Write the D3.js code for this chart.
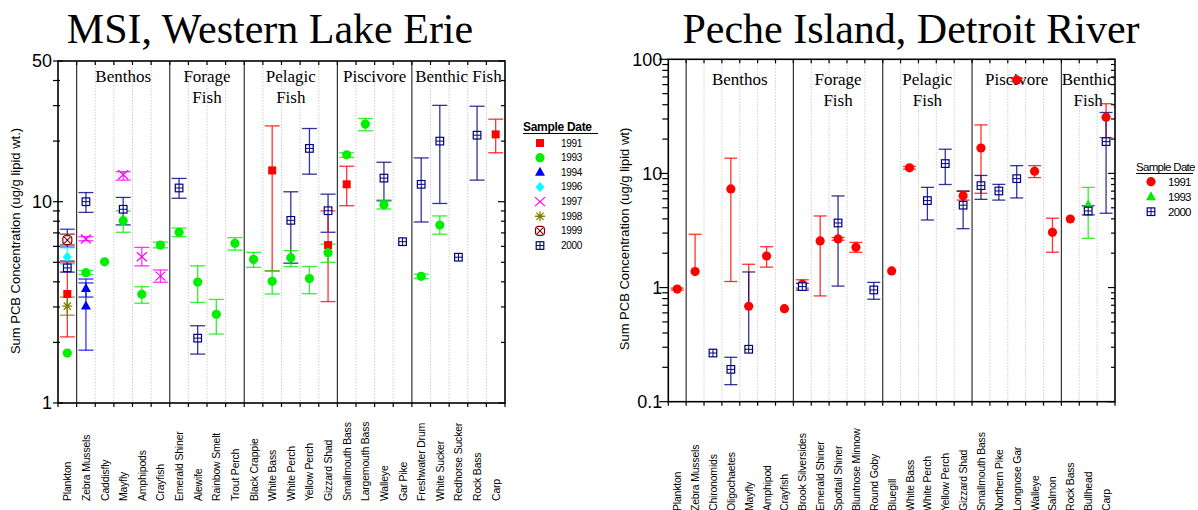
<!DOCTYPE html>
<html>
<head>
<meta charset="utf-8">
<script src="https://cdn.jsdelivr.net/npm/d3@7"></script>
<style>
  body { margin: 0; background: #fff; }
  svg { display: block; }
</style>
</head>
<body>
<script>
// ── Data: MSI, Western Lake Erie ─────────────────────────────────────────
const msiSpecies = ['Plankton', 'Zebra Mussels', 'Caddisfly', 'Mayfly', 'Amphipods', 'Crayfish',
  'Emerald Shiner', 'Alewife', 'Rainbow Smelt', 'Trout Perch',
  'Black Crappie', 'White Bass', 'White Perch', 'Yellow Perch', 'Gizzard Shad',
  'Smallmouth Bass', 'Largemouth Bass', 'Walleye', 'Gar Pike',
  'Freshwater Drum', 'White Sucker', 'Redhorse Sucker', 'Rock Bass', 'Carp'];

const msiGroups = [
  { label: ['Benthos'],      first: 'Zebra Mussels',   last: 'Crayfish' },
  { label: ['Forage', 'Fish'], first: 'Emerald Shiner', last: 'Trout Perch' },
  { label: ['Pelagic', 'Fish'], first: 'Black Crappie', last: 'Gizzard Shad' },
  { label: ['Piscivore'],    first: 'Smallmouth Bass', last: 'Gar Pike' },
  { label: ['Benthic Fish'], first: 'Freshwater Drum', last: 'Carp' },
];

const msiYears = ['1991', '1993', '1994', '1996', '1997', '1998', '1999', '2000'];

// [species, year, mean, low, high]
const msiPoints = [
  ['Plankton', '1991', 3.48, 2.13, 4.96],
  ['Plankton', '1993', 1.77, null, null],
  ['Plankton', '1994', 6.45, 5.95, 7.3],
  ['Plankton', '1996', 5.31, 4.9, 5.9],
  ['Plankton', '1998', 3.03, 2.73, 3.36],
  ['Plankton', '1999', 6.45, 6.1, 6.9],
  ['Plankton', '2000', 4.69, 4.47, 5.07],
  ['Zebra Mussels', '2000', 10.0, 8.85, 11.1],
  ['Zebra Mussels', '1997', 6.53, 6.4, 6.7],
  ['Zebra Mussels', '1993', 4.44, 4.35, 4.55],
  ['Zebra Mussels', '1994', 3.71, 3.36, 3.95],
  ['Zebra Mussels', '1994', 3.03, 1.83, 4.13],
  ['Caddisfly', '1993', 5.03, null, null],
  ['Mayfly', '1997', 13.6, 12.8, 14.1],
  ['Mayfly', '2000', 9.17, 7.67, 10.5],
  ['Mayfly', '1993', 8.05, 7.05, 9.0],
  ['Amphipods', '1997', 5.33, 4.8, 5.93],
  ['Amphipods', '1993', 3.47, 3.13, 3.78],
  ['Crayfish', '1993', 6.09, 5.9, 6.3],
  ['Crayfish', '1997', 4.27, 3.98, 4.58],
  ['Emerald Shiner', '2000', 11.7, 10.4, 13.05],
  ['Emerald Shiner', '1993', 7.05, 6.7, 7.4],
  ['Alewife', '1993', 3.99, 3.16, 4.8],
  ['Alewife', '2000', 2.10, 1.75, 2.42],
  ['Rainbow Smelt', '1993', 2.76, 2.2, 3.27],
  ['Trout Perch', '1993', 6.21, 5.75, 6.63],
  ['Black Crappie', '1993', 5.17, 4.72, 5.6],
  ['White Bass', '1991', 14.3, 4.53, 23.8],
  ['White Bass', '1993', 4.02, 3.48, 4.53],
  ['White Perch', '2000', 8.08, 4.95, 11.2],
  ['White Perch', '1993', 5.27, 4.76, 5.71],
  ['Yellow Perch', '2000', 18.4, 13.7, 23.1],
  ['Yellow Perch', '1993', 4.15, 3.49, 4.77],
  ['Gizzard Shad', '2000', 9.02, 7.05, 10.9],
  ['Gizzard Shad', '1991', 6.09, 3.19, 9.0],
  ['Gizzard Shad', '1993', 5.58, 5.0, 6.16],
  ['Smallmouth Bass', '1993', 17.1, 16.6, 17.5],
  ['Smallmouth Bass', '1991', 12.2, 9.55, 15.0],
  ['Largemouth Bass', '1993', 24.3, 22.5, 25.9],
  ['Walleye', '2000', 13.1, 10.1, 15.7],
  ['Walleye', '1993', 9.67, 9.2, 10.2],
  ['Gar Pike', '2000', 6.33, null, null],
  ['Freshwater Drum', '2000', 12.2, 7.93, 16.5],
  ['Freshwater Drum', '1993', 4.26, 4.15, 4.37],
  ['White Sucker', '2000', 20.0, 9.8, 30.1],
  ['White Sucker', '1993', 7.66, 6.9, 8.5],
  ['Redhorse Sucker', '2000', 5.3, null, null],
  ['Rock Bass', '2000', 21.4, 12.8, 29.8],
  ['Carp', '1991', 21.6, 17.5, 25.7],
];

// ── Data: Peche Island, Detroit River ────────────────────────────────────
const pecheSpecies = ['Plankton', 'Zebra Mussels', 'Chironomids', 'Oligochaetes', 'Mayfly', 'Amphipod', 'Crayfish',
  'Brook Silversides', 'Emerald Shiner', 'Spottail Shiner', 'Bluntnose Minnow', 'Round Goby',
  'Bluegill', 'White Bass', 'White Perch', 'Yellow Perch', 'Gizzard Shad',
  'Smallmouth Bass', 'Northern Pike', 'Longnose Gar', 'Walleye', 'Salmon',
  'Rock Bass', 'Bullhead', 'Carp'];

const pecheGroups = [
  { label: ['Benthos'],         first: 'Zebra Mussels',     last: 'Crayfish' },
  { label: ['Forage', 'Fish'],  first: 'Brook Silversides', last: 'Round Goby' },
  { label: ['Pelagic', 'Fish'], first: 'Bluegill',          last: 'Gizzard Shad' },
  { label: ['Piscivore'],       first: 'Smallmouth Bass',   last: 'Salmon' },
  { label: ['Benthic', 'Fish'], first: 'Rock Bass',         last: 'Carp' },
];

const pecheYears = ['1991', '1993', '2000'];

const pechePoints = [
  ['Plankton', '1991', 0.97, 0.95, 0.99],
  ['Zebra Mussels', '1991', 1.38, null, 2.93],
  ['Chironomids', '2000', 0.267, null, null],
  ['Oligochaetes', '1991', 7.31, 1.13, 13.6],
  ['Oligochaetes', '2000', 0.192, 0.141, 0.245],
  ['Mayfly', '1991', 0.686, null, 1.6],
  ['Mayfly', '2000', 0.288, null, 1.37],
  ['Amphipod', '1991', 1.89, 1.51, 2.28],
  ['Crayfish', '1991', 0.653, null, null],
  ['Brook Silversides', '1991', 1.07, 0.99, 1.17],
  ['Brook Silversides', '2000', 1.02, 0.95, 1.09],
  ['Emerald Shiner', '1991', 2.56, 0.845, 4.24],
  ['Spottail Shiner', '1991', 2.67, 2.6, 2.75],
  ['Spottail Shiner', '2000', 3.68, 1.03, 6.35],
  ['Bluntnose Minnow', '1991', 2.26, 2.04, 2.49],
  ['Round Goby', '2000', 0.953, 0.79, 1.11],
  ['Bluegill', '1991', 1.40, null, null],
  ['White Bass', '1991', 11.2, 10.9, 11.5],
  ['White Perch', '2000', 5.78, 3.91, 7.55],
  ['Yellow Perch', '2000', 12.2, 8.0, 16.3],
  ['Gizzard Shad', '1991', 6.39, 5.84, 7.0],
  ['Gizzard Shad', '2000', 5.27, 3.28, 7.0],
  ['Smallmouth Bass', '1991', 16.7, 6.7, 26.6],
  ['Smallmouth Bass', '2000', 7.82, 5.93, 9.6],
  ['Northern Pike', '2000', 7.02, 5.84, 8.02],
  ['Longnose Gar', '1991', 66, 64, 68],
  ['Longnose Gar', '2000', 9.0, 6.1, 11.7],
  ['Walleye', '1991', 10.45, 9.2, 11.7],
  ['Salmon', '1991', 3.05, 2.04, 4.05],
  ['Rock Bass', '1991', 3.99, null, null],
  ['Bullhead', '1993', 5.3, 2.7, 7.55],
  ['Bullhead', '2000', 4.69, 4.33, 5.2],
  ['Carp', '1991', 31.1, 20.6, 40.8],
  ['Carp', '2000', 19.0, 4.48, 34.2],
];

// ── Styles per sample year (symbol, colour) ──────────────────────────────
const msiStyle = {
  '1991': ['square', '#ff0000'],
  '1993': ['circle', '#00ee00'],
  '1994': ['triangle', '#0000ff'],
  '1996': ['diamond', '#00ffff'],
  '1997': ['x', '#ff00ff'],
  '1998': ['asterisk', '#808000'],
  '1999': ['circlex', '#800000'],
  '2000': ['boxplus', '#000080'],
};
const pecheStyle = {
  '1991': ['circle', '#ff0000'],
  '1993': ['triangle', '#00ee00'],
  '2000': ['boxplus', '#000080'],
};

const svg = d3.select('body').append('svg')
  .attr('width', 1198).attr('height', 510)
  .style('font-family', 'Arial, "Liberation Sans", sans-serif');

// ── Marker drawing ───────────────────────────────────────────────────────
function marker(g, type, color) {
  switch (type) {
    case 'square':
      g.append('rect').attr('x', -4).attr('y', -4).attr('width', 8).attr('height', 8).attr('fill', color);
      break;
    case 'circle':
      g.append('circle').attr('r', 4.6).attr('fill', color);
      break;
    case 'triangle':
      g.append('path').attr('d', 'M0,-5.5L5,3.5L-5,3.5Z').attr('fill', color);
      break;
    case 'diamond':
      g.append('path').attr('d', 'M0,-5L4.5,0L0,5L-4.5,0Z').attr('fill', color);
      break;
    case 'x':
      g.append('path').attr('d', 'M-5,-4.5L5,4.5M-5,4.5L5,-4.5')
        .attr('stroke', color).attr('stroke-width', 1.2).attr('fill', 'none');
      break;
    case 'asterisk':
      g.append('path').attr('d', 'M-5,0H5M0,-5V5M-3.6,-3.6L3.6,3.6M-3.6,3.6L3.6,-3.6')
        .attr('stroke', color).attr('stroke-width', 1.3).attr('fill', 'none');
      break;
    case 'circlex':
      g.append('rect').attr('x', -4.5).attr('y', -4.5).attr('width', 9).attr('height', 9).attr('rx', 3)
        .attr('stroke', color).attr('stroke-width', 1.2).attr('fill', '#fff');
      g.append('path').attr('d', 'M-3,-3L3,3M-3,3L3,-3')
        .attr('stroke', color).attr('stroke-width', 1.1).attr('fill', 'none');
      break;
    case 'boxplus':
      g.append('rect').attr('x', -3.8).attr('y', -3.8).attr('width', 7.6).attr('height', 7.6)
        .attr('stroke', color).attr('stroke-width', 1.2).attr('fill', '#fff');
      g.append('path').attr('d', 'M-3.8,0H3.8M0,-3.8V3.8')
        .attr('stroke', color).attr('stroke-width', 1).attr('fill', 'none');
      break;
  }
}

// ── Panel drawing ────────────────────────────────────────────────────────
function drawPanel(cfg) {
  const { species, groups, points, style, years } = cfg;
  const x = d3.scaleBand().domain(species).range([cfg.left, cfg.right]);
  const y = d3.scaleLog().domain(cfg.domain).range([cfg.bottom, cfg.top]);
  const bw = x.bandwidth();
  const g = svg.append('g');

  // Title
  g.append('text')
    .attr('x', cfg.titleX).attr('y', 43)
    .attr('text-anchor', 'middle')
    .attr('font-family', '"Times New Roman", "Liberation Serif", serif')
    .attr('font-size', 42)
    .text(cfg.title);

  // Column boundaries: dotted within a group, solid between groups
  const groupStarts = new Set(groups.map(gr => gr.first));
  species.forEach((s, i) => {
    if (i === 0) return;
    const bx = x(s);
    const solid = groupStarts.has(s);
    g.append('line')
      .attr('x1', bx).attr('x2', bx).attr('y1', cfg.top).attr('y2', cfg.bottom)
      .attr('stroke', solid ? '#333' : '#c8c8c8')
      .attr('stroke-width', solid ? 1.2 : 0.9)
      .attr('stroke-dasharray', solid ? null : '1.5,1.5');
  });

  // Group labels
  groups.forEach(gr => {
    const cx = (x(gr.first) + x(gr.last) + bw) / 2;
    gr.label.forEach((t, li) => {
      g.append('text')
        .attr('x', cx).attr('y', cfg.groupY + li * 21)
        .attr('text-anchor', 'middle')
        .attr('font-family', '"Times New Roman", "Liberation Serif", serif')
        .attr('font-size', 17)
        .text(t);
    });
  });

  // Frame
  g.append('rect')
    .attr('x', cfg.left).attr('y', cfg.top)
    .attr('width', cfg.right - cfg.left).attr('height', cfg.bottom - cfg.top)
    .attr('fill', 'none').attr('stroke', '#000').attr('stroke-width', 1.6);

  // Column ticks top and bottom
  species.forEach((s, i) => {
    const bx = x(s);
    g.append('line').attr('x1', bx).attr('x2', bx).attr('y1', cfg.bottom).attr('y2', cfg.bottom + 4)
      .attr('stroke', '#000').attr('stroke-width', 1.2);
    if (i > 0) g.append('line').attr('x1', bx).attr('x2', bx).attr('y1', cfg.top).attr('y2', cfg.top + 4)
      .attr('stroke', '#000').attr('stroke-width', 1.2);
  });
  g.append('line').attr('x1', cfg.right).attr('x2', cfg.right).attr('y1', cfg.bottom).attr('y2', cfg.bottom + 4)
    .attr('stroke', '#000').attr('stroke-width', 1.2);

  // Y ticks (log): majors labelled, minors at 2..9
  const majors = cfg.majors;
  const allTicks = y.ticks().filter(v => v >= cfg.domain[0] && v <= cfg.domain[1]);
  allTicks.forEach(v => {
    const isMajor = majors.includes(v);
    const len = isMajor ? 9 : 6;
    const yy = y(v);
    g.append('line')
      .attr('x1', cfg.left - (cfg.crossTicks ? 5 : len)).attr('x2', cfg.left + (cfg.crossTicks ? len - 4 : 0))
      .attr('y1', yy).attr('y2', yy).attr('stroke', '#000').attr('stroke-width', 1.2);
    g.append('line')
      .attr('x1', cfg.right - len + 2).attr('x2', cfg.right)
      .attr('y1', yy).attr('y2', yy).attr('stroke', '#000').attr('stroke-width', 1.2);
  });
  majors.forEach(v => {
    g.append('text')
      .attr('x', cfg.left - 6).attr('y', y(v))
      .attr('dy', '0.36em')
      .attr('text-anchor', 'end')
      .attr('font-size', 18)
      .text(v);
  });

  // Y label
  g.append('text')
    .attr('transform', `translate(${cfg.ylabelX},${cfg.ylabelY}) rotate(-90)`)
    .attr('text-anchor', 'middle')
    .attr('font-size', 13)
    .text(cfg.ylabel);

  // X labels (rotated)
  species.forEach(s => {
    g.append('text')
      .attr('transform', `translate(${x(s) + bw / 2 + 4},${cfg.xlabelY}) rotate(-90)`)
      .attr('font-size', 10.5)
      .attr('letter-spacing', -0.2)
      .text(s);
  });

  // Error bars
  const cap = cfg.cap;
  points.forEach(([s, yr, v, lo, hi]) => {
    const cx = x(s) + bw / 2;
    const col = style[yr][1];
    const eb = g.append('g').attr('stroke', col).attr('stroke-width', 1.3).attr('stroke-opacity', 0.8);
    if (hi != null) {
      eb.append('line').attr('x1', cx).attr('x2', cx).attr('y1', y(v)).attr('y2', y(hi));
      eb.append('line').attr('x1', cx - cap).attr('x2', cx + cap).attr('y1', y(hi)).attr('y2', y(hi));
    }
    if (lo != null) {
      eb.append('line').attr('x1', cx).attr('x2', cx).attr('y1', y(v)).attr('y2', y(lo));
      eb.append('line').attr('x1', cx - cap).attr('x2', cx + cap).attr('y1', y(lo)).attr('y2', y(lo));
    }
  });

  // Markers
  points.forEach(([s, yr, v]) => {
    const m = g.append('g').attr('transform', `translate(${x(s) + bw / 2},${y(v)})`);
    marker(m, style[yr][0], style[yr][1]);
  });

  // Legend
  const L = cfg.legend;
  const lg = g.append('g');
  lg.append('text')
    .attr('x', L.x).attr('y', L.y)
    .attr('font-size', L.titleSize)
    .attr('font-weight', L.bold ? 'bold' : 'normal')
    .attr('letter-spacing', L.spacing)
    .text('Sample Date');
  lg.append('line')
    .attr('x1', L.x).attr('x2', L.x + L.underline)
    .attr('y1', L.y + 2.5).attr('y2', L.y + 2.5)
    .attr('stroke', '#000').attr('stroke-width', 1);
  years.forEach((yr, i) => {
    const yy = L.y + L.first + i * L.step;
    const m = lg.append('g').attr('transform', `translate(${L.symX},${yy})`);
    marker(m, style[yr][0], style[yr][1]);
    lg.append('text')
      .attr('x', L.textX).attr('y', yy).attr('dy', '0.35em')
      .attr('font-size', L.textSize)
      .attr('letter-spacing', L.spacing)
      .text(yr);
  });
}

drawPanel({
  species: msiSpecies, groups: msiGroups, points: msiPoints, style: msiStyle, years: msiYears,
  left: 58, right: 505, top: 61, bottom: 403,
  domain: [1, 50], majors: [1, 10, 50], crossTicks: true,
  title: 'MSI, Western Lake Erie', titleX: 270,
  groupY: 82,
  ylabel: 'Sum PCB Concentration (ug/g lipid wt.)', ylabelX: 20, ylabelY: 241,
  xlabelY: 501, cap: 7.5,
  legend: { x: 523, y: 131, titleSize: 12, bold: true, spacing: -0.3, underline: 75,
            first: 12, step: 14.65, symX: 540, textX: 561, textSize: 10 },
});

drawPanel({
  species: pecheSpecies, groups: pecheGroups, points: pechePoints, style: pecheStyle, years: pecheYears,
  left: 668.3, right: 1115, top: 59.3, bottom: 401.7,
  domain: [0.1, 100], majors: [0.1, 1, 10, 100], crossTicks: false,
  title: 'Peche Island, Detroit River', titleX: 911,
  groupY: 85,
  ylabel: 'Sum PCB Concentration (ug/g lipid wt)', ylabelX: 629, ylabelY: 239,
  xlabelY: 511, cap: 6.5,
  legend: { x: 1136, y: 171, titleSize: 11.5, bold: false, spacing: -0.7, underline: 57,
            first: 10.7, step: 15, symX: 1151, textX: 1168, textSize: 11.5 },
});
</script>
</body>
</html>
